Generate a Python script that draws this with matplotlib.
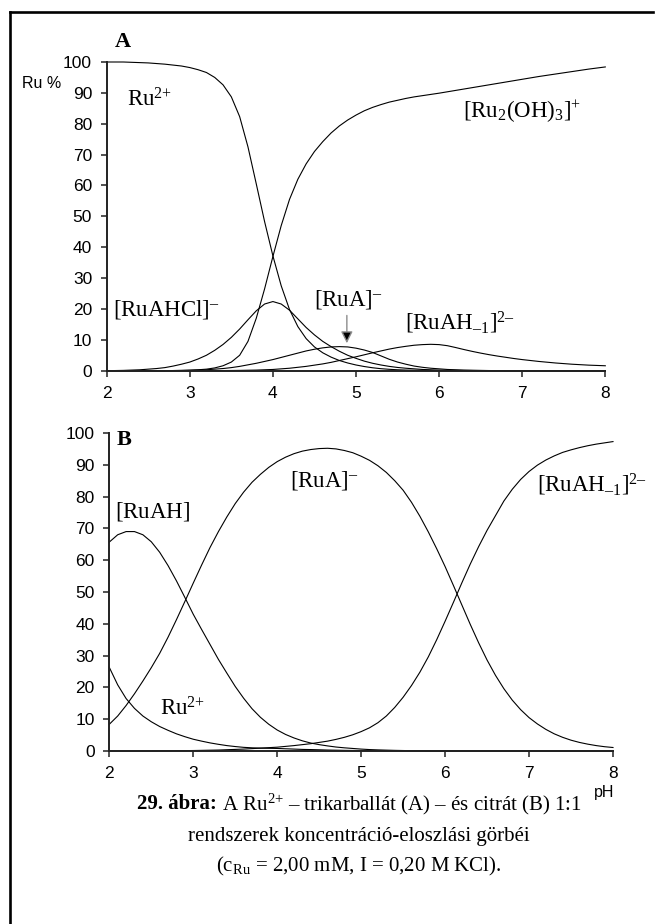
import numpy as np
import matplotlib
matplotlib.use('Agg')
import matplotlib.pyplot as plt
from matplotlib.lines import Line2D

plt.rcParams['font.family'] = ['Liberation Sans', 'DejaVu Sans']
plt.rcParams['mathtext.fontset'] = 'custom'
plt.rcParams['mathtext.rm'] = 'Liberation Serif'
plt.rcParams['mathtext.it'] = 'Liberation Serif:italic'
plt.rcParams['mathtext.bf'] = 'Liberation Serif:bold'

SERIF = ['Liberation Serif', 'DejaVu Serif']

# pH racs (mindket panel), 0.1 lepes
ph = [2.0, 2.1, 2.2, 2.3, 2.4, 2.5, 2.6, 2.7, 2.8, 2.9,
      3.0, 3.1, 3.2, 3.3, 3.4, 3.5, 3.6, 3.7, 3.8, 3.9,
      4.0, 4.1, 4.2, 4.3, 4.4, 4.5, 4.6, 4.7, 4.8, 4.9,
      5.0, 5.1, 5.2, 5.3, 5.4, 5.5, 5.6, 5.7, 5.8, 5.9,
      6.0, 6.1, 6.2, 6.3, 6.4, 6.5, 6.6, 6.7, 6.8, 6.9,
      7.0, 7.1, 7.2, 7.3, 7.4, 7.5, 7.6, 7.7, 7.8, 7.9, 8.0]

# A panel: Ru2+ - trikarballat
a_ru = [100, 100, 100, 99.9, 99.8, 99.7, 99.5, 99.3, 99.0, 98.7,
        98.2, 97.5, 96.6, 95.0, 92.6, 88.7, 82.3, 72.5, 60.5, 48.3,
        37.2, 27.5, 19.8, 14.3, 10.4, 7.7, 5.8, 4.4, 3.3, 2.5,
        1.85, 1.35, 0.95, 0.65, 0.45, 0.3, 0.2, 0.15, 0.1, 0.05,
        0.03, 0, 0, 0, 0, 0, 0, 0, 0, 0,
        0, 0, 0, 0, 0, 0, 0, 0, 0, 0, 0]
a_ruahcl = [0, 0.05, 0.1, 0.2, 0.3, 0.5, 0.7, 1.0, 1.5, 2.1,
            2.8, 3.8, 5.0, 6.6, 8.5, 10.8, 13.5, 16.5, 19.4, 21.6,
            22.4, 21.6, 19.6, 16.8, 14.0, 11.6, 9.5, 7.8, 6.3, 5.0,
            4.0, 3.1, 2.4, 1.85, 1.4, 1.05, 0.8, 0.6, 0.4, 0.3,
            0.2, 0.15, 0.1, 0.07, 0.05, 0.03, 0, 0, 0, 0,
            0, 0, 0, 0, 0, 0, 0, 0, 0, 0, 0]
a_ru2oh3 = [0, 0, 0, 0, 0, 0, 0, 0, 0.05, 0.1,
            0.2, 0.3, 0.5, 0.9, 1.6, 2.8, 5.0, 9.5, 17, 26.5,
            37, 47, 55.5, 62, 67, 71, 74.2, 77, 79.3, 81.2,
            82.8, 84.2, 85.3, 86.2, 87.0, 87.6, 88.2, 88.7, 89.1, 89.5,
            89.9, 90.35, 90.8, 91.25, 91.7, 92.15, 92.6, 93.05, 93.5, 93.95,
            94.4, 94.85, 95.3, 95.7, 96.1, 96.5, 96.9, 97.3, 97.7, 98.05, 98.4]
a_rua = [0, 0, 0, 0, 0, 0, 0, 0, 0.05, 0.07,
         0.1, 0.2, 0.3, 0.5, 0.7, 1.0, 1.4, 1.9, 2.4, 3.0,
         3.6, 4.3, 5.0, 5.7, 6.4, 6.95, 7.4, 7.7, 7.8, 7.7,
         7.3, 6.7, 5.9, 4.8, 3.7, 2.8, 2.1, 1.5, 1.1, 0.8,
         0.6, 0.4, 0.3, 0.2, 0.15, 0.1, 0.05, 0.03, 0, 0,
         0, 0, 0, 0, 0, 0, 0, 0, 0, 0, 0]
a_ruahm1 = [0, 0, 0, 0, 0, 0, 0, 0, 0, 0,
            0, 0, 0, 0, 0.05, 0.07, 0.1, 0.15, 0.2, 0.3,
            0.4, 0.6, 0.8, 1.1, 1.4, 1.8, 2.2, 2.7, 3.3, 3.9,
            4.5, 5.15, 5.8, 6.4, 7.0, 7.5, 7.9, 8.25, 8.45, 8.55,
            8.45, 8.1, 7.5, 6.85, 6.25, 5.7, 5.2, 4.75, 4.35, 3.95,
            3.6, 3.3, 3.0, 2.75, 2.5, 2.3, 2.1, 1.95, 1.8, 1.7, 1.6]

# B panel: Ru2+ - citrat
b_ru = [26.3, 20.8, 16.5, 13.4, 11.0, 9.2, 7.7, 6.5, 5.4, 4.5,
        3.7, 3.1, 2.55, 2.1, 1.7, 1.4, 1.15, 1.0, 0.9, 0.85,
        0.8, 0.7, 0.6, 0.5, 0.45, 0.38, 0.3, 0.25, 0.2, 0.17,
        0.15, 0.12, 0.1, 0.07, 0.05, 0.03, 0, 0, 0, 0,
        0, 0, 0, 0, 0, 0, 0, 0, 0, 0,
        0, 0, 0, 0, 0, 0, 0, 0, 0, 0, 0]
b_ruah = [65.7, 68.0, 69.0, 69.0, 68.0, 65.8, 62.5, 58.3, 53.5, 48.3,
          43.0, 38.2, 33.5, 28.8, 24.5, 20.3, 16.6, 13.3, 10.6, 8.4,
          6.6, 5.2, 4.1, 3.2, 2.5, 2.0, 1.6, 1.25, 1.0, 0.8,
          0.6, 0.45, 0.35, 0.27, 0.2, 0.15, 0.1, 0.07, 0.05, 0.03,
          0, 0, 0, 0, 0, 0, 0, 0, 0, 0,
          0, 0, 0, 0, 0, 0, 0, 0, 0, 0, 0]
b_rua = [8.4, 11.0, 14.3, 18.0, 22.0, 26.2, 30.7, 35.8, 41.3, 47.0,
         52.8, 58.5, 64.0, 69.0, 73.6, 77.8, 81.4, 84.5, 87.0, 89.2,
         91.0, 92.4, 93.5, 94.3, 94.8, 95.1, 95.2, 95.0, 94.5, 93.8,
         92.7, 91.4, 89.7, 87.6, 85.0, 82.0, 78.2, 73.8, 68.9, 63.6,
         58.0, 52.0, 45.9, 39.8, 34.0, 28.6, 23.8, 19.6, 16.0, 13.0,
         10.5, 8.5, 6.8, 5.4, 4.3, 3.4, 2.7, 2.15, 1.7, 1.35, 1.1]
b_ruahm1 = [0, 0, 0, 0, 0, 0, 0.05, 0.07, 0.1, 0.12,
            0.15, 0.2, 0.25, 0.3, 0.4, 0.5, 0.6, 0.75, 0.9, 1.05,
            1.2, 1.45, 1.7, 2.0, 2.3, 2.7, 3.1, 3.65, 4.3, 5.1,
            6.1, 7.3, 8.9, 11.0, 13.7, 16.9, 20.6, 24.8, 29.6, 35.0,
            40.8, 46.8, 52.9, 58.8, 64.3, 69.4, 74.0, 78.6, 82.3, 85.4,
            87.9, 89.9, 91.5, 92.8, 93.9, 94.7, 95.4, 96.0, 96.5, 96.9, 97.3]

xticks = [2, 3, 4, 5, 6, 7, 8]
yticks = [0, 10, 20, 30, 40, 50, 60, 70, 80, 90, 100]

W, H = 657, 924
fig = plt.figure(figsize=(W / 100, H / 100), dpi=100)
fig.patch.set_facecolor('white')

axA = fig.add_axes([106.7 / W, 1 - 370.7 / H, 498.6 / W, 308.7 / H])
axB = fig.add_axes([109.3 / W, 1 - 751 / H, 503.7 / W, 318 / H])

for ax in (axA, axB):
    ax.set_xlim(2, 8)
    ax.set_ylim(0, 100)
    ax.set_xticks(xticks)
    ax.set_yticks(yticks)
    ax.spines['top'].set_visible(False)
    ax.spines['right'].set_visible(False)
    for s in ('left', 'bottom'):
        ax.spines[s].set_linewidth(1.4)
        ax.spines[s].set_color('#222222')
    ax.tick_params(direction='out', length=4.0, width=1.1, color='#222222', labelsize=12.5)
    ax.tick_params(axis='x', pad=7)
    ax.tick_params(axis='y', pad=6.5)
    ax.patch.set_alpha(0)

kw = dict(color='black', lw=0.8, clip_on=False)
for y in (a_ru, a_ruahcl, a_ru2oh3, a_rua, a_ruahm1):
    axA.plot(ph, y, **kw)
for y in (b_ru, b_ruah, b_rua, b_ruahm1):
    axB.plot(ph, y, **kw)

lab = dict(fontsize=16.5, family=SERIF, va='center', ha='left')
axA.text(2.1, 106.5, 'A', fontsize=16, fontweight='bold', family=SERIF, va='center', ha='left')
axA.text(2.24, 87.7, r'$\mathrm{Ru}^{2{+}}$', **lab)
axA.text(6.29, 83.9, r'$\mathrm{[Ru_2(OH)_3]}^{+}$', **lab)
axA.text(2.08, 19.7, r'$\mathrm{[RuAHCl]}^{–}$', **lab)
axA.text(4.49, 23.0, r'$\mathrm{[RuA]}^{–}$', **lab)
axA.text(5.59, 15.4, r'$\mathrm{[RuAH_{–1}]}^{2–}$', **lab)
axA.annotate('', xy=(4.89, 8.0), xytext=(4.89, 18.8),
             arrowprops=dict(arrowstyle='-|>,head_length=0.7,head_width=0.35',
                             edgecolor='0.55', facecolor='black', lw=1.0))

axB.text(2.09, 97.8, 'B', fontsize=16, fontweight='bold', family=SERIF, va='center', ha='left')
axB.text(2.07, 75.2, r'$\mathrm{[RuAH]}$', **lab)
axB.text(2.6, 13.2, r'$\mathrm{Ru}^{2{+}}$', **lab)
axB.text(4.15, 85.2, r'$\mathrm{[RuA]}^{–}$', **lab)
axB.text(7.1, 83.6, r'$\mathrm{[RuAH_{–1}]}^{2–}$', **lab)

fig.text(22 / W, 1 - 83 / H, 'Ru %', fontsize=11.5, va='center', ha='left')
fig.text(604 / W, 1 - 792 / H, 'pH', fontsize=11.5, va='center', ha='center')

# keret
fig.add_artist(Line2D([10 / W, 10 / W], [0, 1 - 12 / H], color='black', lw=1.9))
fig.add_artist(Line2D([10 / W, 653 / W], [1 - 12 / H, 1 - 12 / H], color='black', lw=1.9))

# abrafelirat
cx = 359 / W
r = fig.canvas.get_renderer()
t1 = fig.text(0, 1 - 804 / H, '29. ábra:', fontsize=15, fontweight='bold', family=SERIF,
              va='center', ha='left')
t2 = fig.text(0, 1 - 804 / H, ' A Ru$^{2{+}}$ – trikarballát (A) – és citrát (B) 1:1',
              fontsize=15, family=SERIF, va='center', ha='left')
w1 = t1.get_window_extent(r).width / W
w2 = t2.get_window_extent(r).width / W
x0 = cx - (w1 + w2) / 2
t1.set_x(x0)
t2.set_x(x0 + w1)
fig.text(cx, 1 - 836 / H, 'rendszerek koncentráció-eloszlási görbéi', fontsize=15,
         family=SERIF, va='center', ha='center')
fig.text(cx, 1 - 866 / H, r'(c$_{\mathrm{Ru}}$ = 2,00 mM, I = 0,20 M KCl).', fontsize=15,
         family=SERIF, va='center', ha='center')

fig.savefig('out.png', dpi=100)
